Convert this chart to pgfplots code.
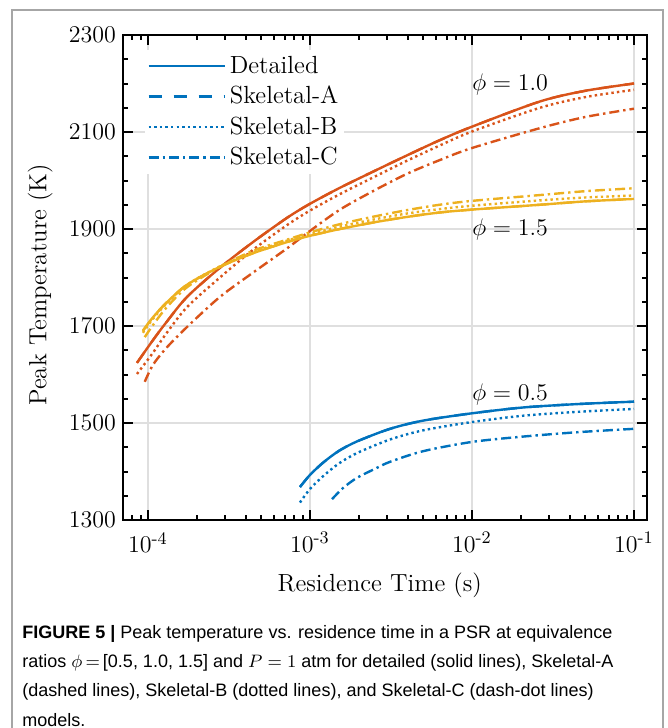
\documentclass[border=0pt]{standalone}
\usepackage{amsmath}
\usepackage{fontspec}
\usepackage{pgfplots}
\pgfplotsset{compat=1.18}
\newfontfamily\capfont{Liberation Sans}
\definecolor{mblue}{RGB}{0,114,189}
\definecolor{morange}{RGB}{217,83,25}
\definecolor{myellow}{RGB}{237,177,32}
\tikzset{
  dashA/.style={dash pattern=on 6.5pt off 6pt},
  dotB/.style={dash pattern=on 1.2pt off 1.6pt},
  dashC/.style={dash pattern=on 5pt off 2pt on 1.2pt off 2pt},
}
\begin{document}
\begin{tikzpicture}
\useasboundingbox (0,0) rectangle (334pt,-364pt);
\draw[gray!70,line width=0.6pt] (6pt,-364pt) -- (6pt,-5pt) -- (331.5pt,-5pt) -- (331.5pt,-364pt);
\begin{axis}[at={(61.5pt,-260pt)},anchor=south west,scale only axis,
  width=262pt,height=242.5pt,
  xmode=log,xmin=7.01e-5,xmax=0.1203,ymin=1300,ymax=2300,
  xtick={1e-4,1e-3,1e-2,1e-1},
  xticklabels={$10^{\text{-4}}$,$10^{\text{-3}}$,$10^{\text{-2}}$,$10^{\text{-1}}$},
  xticklabel style={yshift=-2.5pt},
  minor xtick={8e-5,9e-5,2e-4,3e-4,4e-4,5e-4,6e-4,7e-4,8e-4,9e-4,
    2e-3,3e-3,4e-3,5e-3,6e-3,7e-3,8e-3,9e-3,2e-2,3e-2,4e-2,5e-2,6e-2,7e-2,8e-2,9e-2},
  ytick={1300,1500,...,2300},
  minor ytick={1350,1400,1450,1550,1600,1650,1750,1800,1850,1950,2000,2050,2150,2200,2250},
  yticklabel style={/pgf/number format/set thousands separator={}},
  tick align=inside,major tick length=5pt,minor tick length=2.5pt,
  major tick style={black,line width=1pt},
  minor tick style={black,line width=1pt},
  axis line style={line width=1.25pt},
  xmajorgrids,ymajorgrids,major grid style={gray!25,line width=0.8pt},
  tick label style={font=\fontsize{12.6}{14}\selectfont},
  label style={font=\fontsize{12.4}{14}\selectfont},
  xlabel={Residence Time (s)},ylabel={Peak Temperature (K)},
  xlabel style={at={(axis description cs:0.49,-0.134)},anchor=center},
  ylabel style={at={(axis description cs:-0.158,0.485)},anchor=center},
  legend style={at={(0.042,0.97)},anchor=north west,draw=none,fill=white,
    font=\fontsize{12.4}{14}\selectfont,row sep=1pt,inner sep=1pt},
  legend cell align=left,
  legend image code/.code={\draw[#1] (0pt,0pt) -- (38pt,0pt);},
  every axis plot/.append style={line width=1.2pt,smooth},
]
\addlegendimage{mblue,line width=1.2pt}
\addlegendentry{Detailed}
\addlegendimage{mblue,line width=1.2pt,dashA}
\addlegendentry{Skeletal-A}
\addlegendimage{mblue,line width=1.2pt,dotB}
\addlegendentry{Skeletal-B}
\addlegendimage{mblue,line width=1.2pt,dashC}
\addlegendentry{Skeletal-C}

% phi = 1.0
\addplot[morange,dashA,forget plot] coordinates {(8.55e-5,1624)(1.074e-4,1671)(1.3e-4,1708)(1.742e-4,1760)(2.78e-4,1820)(4.446e-4,1873)(7.211e-4,1923)(1e-3,1952)(1.531e-3,1985)(2.512e-3,2020)(3.981e-3,2052)(6.31e-3,2083)(1e-2,2111)(2.63e-2,2163)(5.01e-2,2185)(0.1,2200)};
\addplot[morange,forget plot] coordinates {(8.55e-5,1624)(1.074e-4,1671)(1.3e-4,1708)(1.742e-4,1760)(2.78e-4,1820)(4.446e-4,1873)(7.211e-4,1923)(1e-3,1952)(1.531e-3,1985)(2.512e-3,2020)(3.981e-3,2052)(6.31e-3,2083)(1e-2,2111)(2.63e-2,2163)(5.01e-2,2185)(0.1,2200)};
\addplot[morange,dotB,forget plot] coordinates {(8.55e-5,1601)(1.074e-4,1645)(1.3e-4,1685)(1.742e-4,1739)(2.78e-4,1800)(4.446e-4,1857)(7.211e-4,1908)(1e-3,1938)(1.531e-3,1972)(2.512e-3,2008)(3.981e-3,2041)(6.31e-3,2072)(1e-2,2101)(2.63e-2,2150)(5.01e-2,2172)(0.1,2187)};
\addplot[morange,dashC,forget plot] coordinates {(9.55e-5,1585)(1.074e-4,1620)(1.3e-4,1655)(1.742e-4,1698)(2.78e-4,1760)(4.446e-4,1810)(7.211e-4,1860)(1e-3,1896)(1.531e-3,1940)(2.512e-3,1980)(3.981e-3,2014)(6.31e-3,2042)(1e-2,2067)(2.63e-2,2108)(5.01e-2,2131)(0.1,2148)};

% phi = 1.5
\addplot[myellow,dashA,forget plot] coordinates {(9.3e-5,1690)(1.074e-4,1718)(1.3e-4,1748)(1.742e-4,1785)(2.78e-4,1822)(4.446e-4,1850)(7.211e-4,1873)(1e-3,1886)(1.531e-3,1900)(2.512e-3,1914)(3.981e-3,1925)(6.31e-3,1934)(1e-2,1940)(2.63e-2,1950)(5.01e-2,1957)(0.1,1962)};
\addplot[myellow,forget plot] coordinates {(9.3e-5,1690)(1.074e-4,1718)(1.3e-4,1748)(1.742e-4,1785)(2.78e-4,1822)(4.446e-4,1850)(7.211e-4,1873)(1e-3,1886)(1.531e-3,1900)(2.512e-3,1914)(3.981e-3,1925)(6.31e-3,1934)(1e-2,1940)(2.63e-2,1950)(5.01e-2,1957)(0.1,1962)};
\addplot[myellow,dotB,forget plot] coordinates {(9.3e-5,1686)(1.074e-4,1715)(1.3e-4,1746)(1.742e-4,1785)(2.78e-4,1823)(4.446e-4,1852)(7.211e-4,1876)(1e-3,1889)(1.531e-3,1905)(2.512e-3,1920)(3.981e-3,1932)(6.31e-3,1941)(1e-2,1948)(2.63e-2,1959)(5.01e-2,1965)(0.1,1969)};
\addplot[myellow,dashC,forget plot] coordinates {(9.55e-5,1677)(1.074e-4,1702)(1.3e-4,1738)(1.742e-4,1780)(2.78e-4,1822)(4.446e-4,1855)(7.211e-4,1878)(1e-3,1893)(1.531e-3,1910)(2.512e-3,1926)(3.981e-3,1939)(6.31e-3,1950)(1e-2,1958)(2.63e-2,1970)(5.01e-2,1978)(0.1,1984)};

% phi = 0.5
\addplot[mblue,dashA,forget plot] coordinates {(8.67e-4,1368)(1e-3,1393)(1.202e-3,1418)(1.5e-3,1442)(1.95e-3,1462)(3.119e-3,1488)(5.01e-3,1505)(1e-2,1520)(2.065e-2,1532)(4.47e-2,1539)(0.1,1544)};
\addplot[mblue,forget plot] coordinates {(8.67e-4,1368)(1e-3,1393)(1.202e-3,1418)(1.5e-3,1442)(1.95e-3,1462)(3.119e-3,1488)(5.01e-3,1505)(1e-2,1520)(2.065e-2,1532)(4.47e-2,1539)(0.1,1544)};
\addplot[mblue,dotB,forget plot] coordinates {(8.67e-4,1336)(1e-3,1364)(1.202e-3,1390)(1.5e-3,1416)(1.95e-3,1438)(3.119e-3,1466)(5.01e-3,1485)(1e-2,1502)(2.065e-2,1515)(4.47e-2,1523)(0.1,1529)};
\addplot[mblue,dashC,forget plot] coordinates {(1.368e-3,1343)(1.6e-3,1366)(1.95e-3,1387)(2.5e-3,1405)(3.119e-3,1420)(5.01e-3,1442)(1e-2,1461)(2.065e-2,1472)(4.47e-2,1481)(0.1,1488)};

\node[anchor=west,inner sep=0pt,font=\fontsize{12.4}{14}\selectfont] at (axis cs:1e-2,2197) {$\phi=1.0$};
\node[anchor=west,inner sep=0pt,font=\fontsize{12.4}{14}\selectfont] at (axis cs:1e-2,1900) {$\phi=1.5$};
\node[anchor=west,inner sep=0pt,font=\fontsize{12.4}{14}\selectfont] at (axis cs:1e-2,1558) {$\phi=0.5$};
\end{axis}
\node[anchor=north west,align=left,inner sep=0pt,font=\capfont\fontsize{9}{14.6}\selectfont] at (11pt,-312.5pt)
 {\textbf{FIGURE 5 |} Peak temperature vs. residence time in a PSR at equivalence\\
  ratios $\phi\,{=}\,$[0.5, 1.0, 1.5] and $P=1$ atm for detailed (solid lines), Skeletal-A\\
  (dashed lines), Skeletal-B (dotted lines), and Skeletal-C (dash-dot lines)\\
  models.};
\end{tikzpicture}
\end{document}
